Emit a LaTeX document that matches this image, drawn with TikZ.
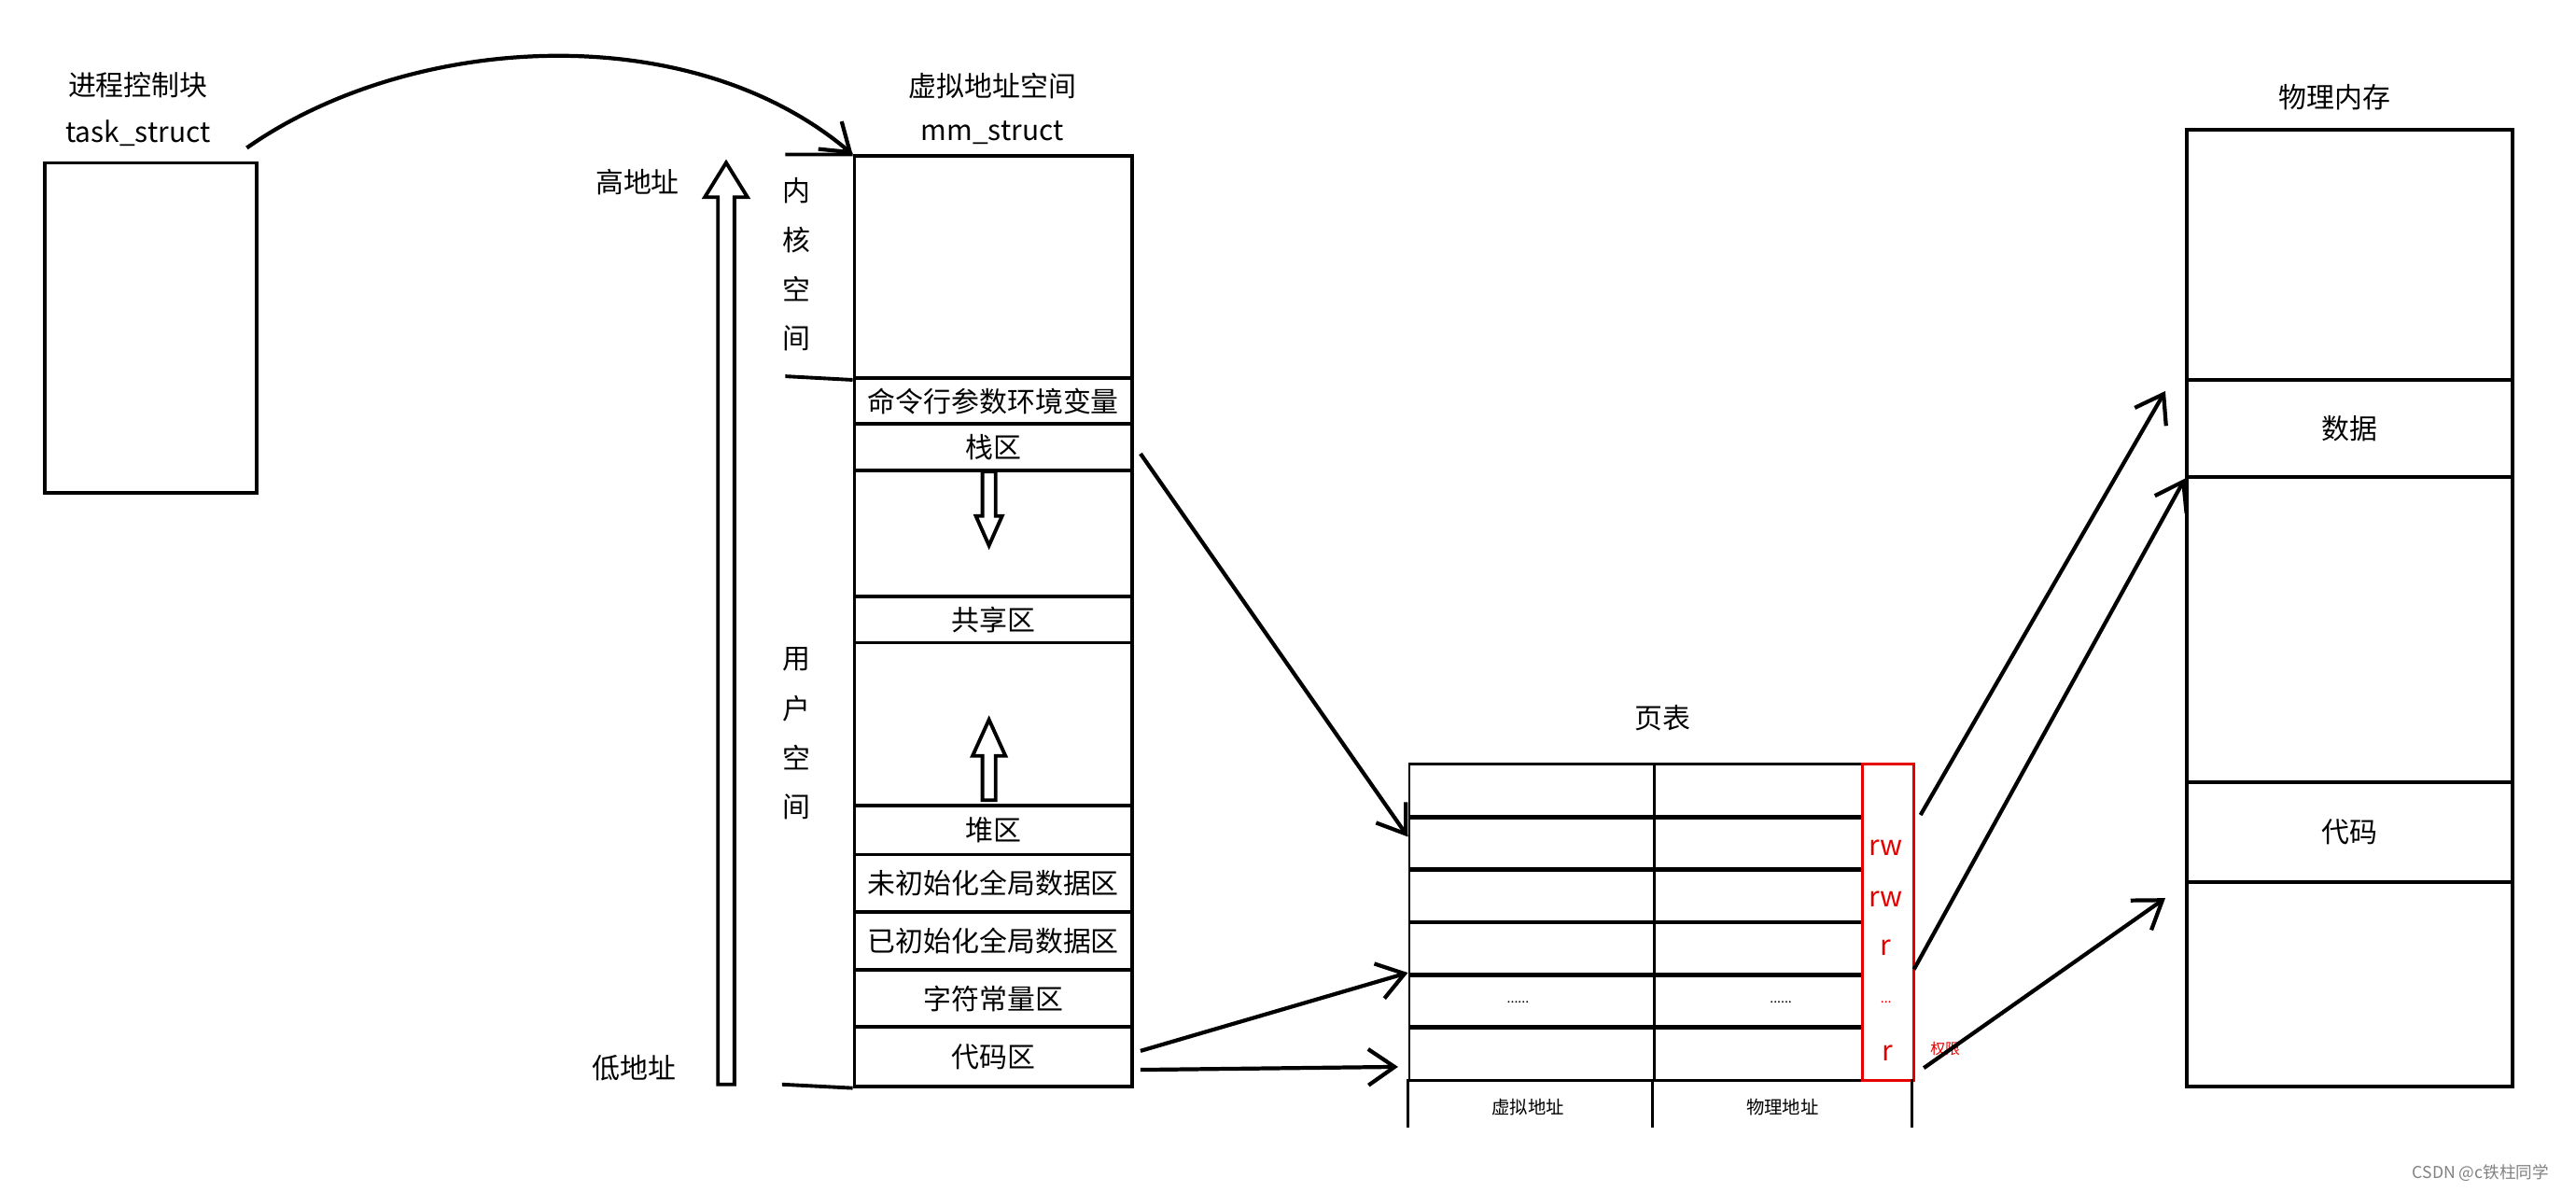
\documentclass[tikz,border=0pt]{standalone}
\usepackage{fontspec}
\setmainfont{Noto Sans CJK SC}
\usetikzlibrary{arrows.meta}
\begin{document}
\begin{tikzpicture}[x=0.5pt,y=-0.5pt,
  box/.style={draw,line width=1.1pt,inner sep=0pt,anchor=north west},
  lbl/.style={font=\fontsize{8.5}{10}\selectfont,inner sep=0pt},
  tiny/.style={font=\fontsize{4}{5}\selectfont,inner sep=0pt},
  red/.style={text=red!90!black},
  arr/.style={line width=1.2pt,-{Straight Barb[length=8pt,width=11pt,line width=1.2pt]}},
  hol/.style={draw,line width=1.1pt,fill=white}]
\useasboundingbox (0,0) rectangle (1568,725);
% task_struct
\node[box,minimum width=64.5pt,minimum height=100.5pt] (task) at (26,98) {};
\node[lbl] (t1) at (84,52) {进程控制块};
\node[lbl] (t2) at (84,81) {task\_struct};
% virtual address space
\node[lbl] (v1) at (604,52) {虚拟地址空间};
\node[lbl] (v2) at (604,81) {mm\_struct};
\def\col#1#2#3#4{\node[box,minimum width=84.5pt,minimum height=#3pt] (#1) at (519,#2) {}; \node[lbl] at (#1.center) {#4};}
\col{kern}{94}{67.5}{}
\col{cmd}{229}{14}{命令行参数环境变量}
\col{stack}{257}{14}{栈区}
\col{gap1}{285}{38.5}{}
\col{share}{362}{14}{共享区}
\col{gap2}{390}{49.5}{}
\col{heap}{489}{15}{堆区}
\col{bss}{519}{17.5}{未初始化全局数据区}
\col{data}{554}{17.5}{已初始化全局数据区}
\col{rodata}{589}{17.5}{字符常量区}
\col{code}{624}{18}{代码区}
\coordinate (k1) at (478,94); \coordinate (k2) at (478,229); \coordinate (k3) at (476,660);
\draw[line width=1.1pt] (k1) -- (kern.north west) (k2) -- (kern.south west) (k3) -- (code.south west);
\foreach \c [count=\i] in {内,核,空,间} \node[lbl] at (485,86+30*\i) {\c};
\foreach \c [count=\i] in {用,户,空,间} \node[lbl] at (485,371+30*\i) {\c};
% big up arrow
\draw[hol] (437,660) -- (437,120) -- (429,120) -- (442,99) -- (455,120) -- (447,120) -- (447,660) -- cycle;
\node[lbl] (hi) at (388,111) {高地址};
\node[lbl] (lo) at (386,650) {低地址};
% small hollow arrows
\draw[hol] (598,287) -- (598,314) -- (594,314) -- (602,332) -- (610,314) -- (606,314) -- (606,287) -- cycle;
\draw[hol] (598,487) -- (598,460) -- (592,460) -- (602,438) -- (612,460) -- (606,460) -- (606,487) -- cycle;
% curve arrow
\draw[arr] (task.north east)++(-7,-8) .. controls (250,20) and (420,10) .. (kern.north west);
% page table
\node[lbl] (pt) at (1012,437) {页表};
\foreach \y/\n in {464/0,496/1,528/2,560/3,592/4,624/5}{
  \node[draw,line width=0.8pt,anchor=north west,inner sep=0pt,minimum width=74.5pt,minimum height=16.5pt] (va\n) at (857,\y) {};
  \node[draw,line width=0.8pt,anchor=north west,inner sep=0pt,minimum width=63.5pt,minimum height=16.5pt] (pa\n) at (1006,\y) {};
}
\node[draw=red!90!black,line width=0.8pt,anchor=north west,inner sep=0pt,minimum width=15.5pt,minimum height=96.5pt] (perm) at (1133,464) {};
\draw[line width=0.8pt] (857,657) -- (857,686) (1006,657) -- (1006,686) (1164,657) -- (1164,686);
\node[lbl,font=\fontsize{5.5}{6}\selectfont] at (930,674) {虚拟地址};
\node[lbl,font=\fontsize{5.5}{6}\selectfont] at (1085,674) {物理地址};
\node[lbl,red] at (1148,516) {rw};
\node[lbl,red] at (1148,547) {rw};
\node[lbl,red] at (1148,577) {r};
\node[tiny,red] at (1148,610) {...};
\node[lbl,red] at (1149,641) {r};
\node[tiny,red,font=\fontsize{4.5}{5}\selectfont] at (1184,638) {权限};
\node[tiny] at (924,610) {......};
\node[tiny] at (1084,610) {......};
% physical memory
\node[lbl] (pm) at (1421,59) {物理内存};
\node[box,minimum width=99pt,minimum height=76pt] (pm0) at (1330,78) {};
\node[box,minimum width=99pt,minimum height=29.5pt] (pdata) at (1330,230) {};
\node[lbl] at (pdata.center) {数据};
\node[box,minimum width=99pt,minimum height=93pt] (pm2) at (1330,289) {};
\node[box,minimum width=99pt,minimum height=30.5pt] (pcode) at (1330,475) {};
\node[lbl] at (pcode.center) {代码};
\node[box,minimum width=99pt,minimum height=62pt] (pm4) at (1330,536) {};
% arrows
\coordinate (s1) at (1169,496); \coordinate (s2) at (1165,590); \coordinate (s3) at (1171,650);
\draw[arr] ([xshift=2pt,yshift=-2pt]stack.east) -- ([yshift=-14pt]va0.west);
\draw[arr] ([xshift=2pt,yshift=-16pt]rodata.east) -- (va4.north west);
\draw[arr] ([xshift=2pt,yshift=-4pt]code.east) -- ([xshift=-3pt,yshift=-4pt]va5.west);
\draw[arr] (s1) -- ([xshift=-6pt,yshift=-4pt]pdata.north west);
\draw[arr] (s2) -- (pdata.south west);
\draw[arr] (s3) -- ([xshift=-6pt,yshift=-20pt]pcode.west);
\node[lbl,text=gray,font=\fontsize{5}{6}\selectfont] at (1510,714) {CSDN @c铁柱同学};
\end{tikzpicture}
\end{document}
